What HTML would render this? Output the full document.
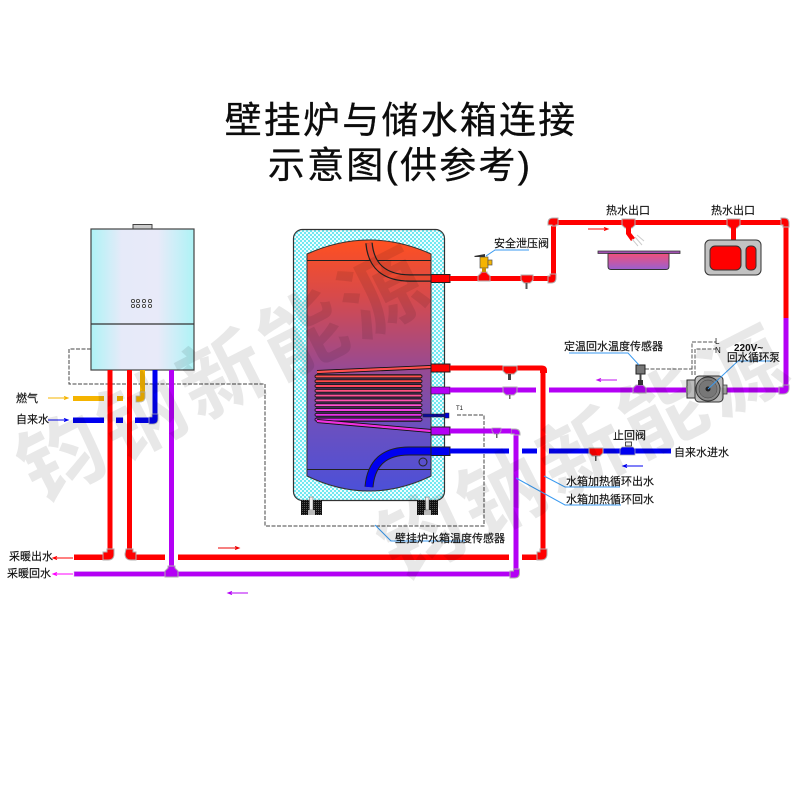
<!DOCTYPE html>
<html><head><meta charset="utf-8"><style>
html,body{margin:0;padding:0;background:#fff}
svg{display:block}
text{font-family:"Liberation Sans","Noto Sans CJK SC",sans-serif;fill:#111}
.l{font-size:11px;stroke:#111;stroke-width:.15px}
.t{font-size:37px;letter-spacing:2.2px;text-anchor:middle;fill:#0c0c0c;stroke:#0c0c0c;stroke-width:.3px}
</style></head><body>
<svg width="800" height="800" viewBox="0 0 800 800" xmlns="http://www.w3.org/2000/svg">
<defs>
<linearGradient id="b" x1="0" x2="1" y1="0" y2="0"><stop offset="0" stop-color="#aef3f6"/><stop offset=".3" stop-color="#e6eaf9"/><stop offset=".65" stop-color="#e8eaf9"/><stop offset="1" stop-color="#aef3f6"/></linearGradient>
<linearGradient id="tg" x1="0" x2="0" y1="0" y2="1"><stop offset="0" stop-color="#ff5020"/><stop offset=".22" stop-color="#d84a4a"/><stop offset=".5" stop-color="#9a4a90"/><stop offset=".75" stop-color="#6a50c0"/><stop offset="1" stop-color="#4c50d8"/></linearGradient>
<linearGradient id="sink" x1="0" x2="0" y1="0" y2="1"><stop offset="0" stop-color="#f0507a"/><stop offset="1" stop-color="#9a60d0"/></linearGradient>
<pattern id="dots" width="4" height="4" patternUnits="userSpaceOnUse"><rect width="4" height="4" fill="#eefcfd"/><circle cx="1" cy="1" r="1" fill="#48e2ee"/><circle cx="3" cy="3" r="1" fill="#48e2ee"/></pattern>
<pattern id="blk" width="2" height="2" patternUnits="userSpaceOnUse"><rect width="2" height="2" fill="#111"/><rect width="1" height="1" fill="#555"/></pattern>
</defs>

<text class="t" x="401" y="133">壁挂炉与储水箱连接</text>
<text class="t" x="400" y="178">示意图(供参考)</text>

<!-- boiler -->
<rect x="133" y="224.500" width="19" height="5" fill="#ccc" stroke="#444"/>
<rect x="91" y="229" width="103" height="141" fill="url(#b)" stroke="#444" stroke-width="1.200"/>
<line x1="91" x2="194" y1="324" y2="324" stroke="#333" stroke-width="1.300"/>
<g fill="#eee" stroke="#333" stroke-width=".8"><circle cx="133" cy="301" r="1.600"/><circle cx="138" cy="301" r="1.600"/><circle cx="144" cy="301" r="1.600"/><circle cx="150" cy="301" r="1.600"/><circle cx="133" cy="306" r="1.600"/><circle cx="138" cy="306" r="1.600"/><circle cx="144" cy="306" r="1.600"/><circle cx="150" cy="306" r="1.600"/></g>

<!-- dashed sensor wiring -->
<g fill="none" stroke="#444" stroke-width="1" stroke-dasharray="4 1.500">
<path d="M91 349H69V384H265V526H484V415H456"/>
<path d="M645 369H692M692 375V342H716M695 375V349H716" stroke="#555"/>
</g>

<!-- boiler pipes -->
<g fill="none" stroke-linejoin="round">
<path d="M110 370V553" stroke="#f00" stroke-width="5"/>
<path d="M129.500 370V553" stroke="#f00" stroke-width="5"/>
<path d="M171.500 370V570" stroke="#b400f5" stroke-width="5"/>
<path d="M142.500 370V396" stroke="#f5b400" stroke-width="5"/>
<path d="M155 370V416" stroke="#0000f0" stroke-width="5"/>
</g>
<g fill="#f5b400"><rect x="73" y="396" width="31" height="5"/><rect x="117" y="396" width="6" height="5"/><path d="M136 396h4v-4h5v5q0 5-5 5h-4z" stroke="#bbb" stroke-width=".8"/></g>
<g fill="#0000f0"><rect x="73" y="417.500" width="31" height="5.500"/><rect x="116" y="417.500" width="7" height="5.500"/><rect x="135" y="417.500" width="15" height="5.500"/><path d="M149 417h3v-3h6v5q0 5-5 5h-4z" stroke="#bbb" stroke-width=".8"/></g>

<!-- lower mains -->
<g fill="#f00">
<rect x="74" y="554.500" width="30" height="5.500"/><rect x="136" y="554.500" width="29" height="5.500"/><rect x="178" y="554.500" width="331" height="5.500"/><rect x="522" y="554.500" width="16" height="5.500"/>
<rect x="540.500" y="368" width="5" height="186"/>
<g stroke="#b0b0b0" stroke-width="1">
<path d="M103 552h4v-3h7v5q0 6-6 6h-5z"/>
<path d="M126 549h7v3h3v8h-5q-6 0-6-6z"/>
<path d="M537 552h3v-3h7v5q0 6-6 6h-4z"/>
</g>
<path d="M540 373v-6h-3v-1.500h5q5 0 5 5v2.500z"/>
</g>
<g fill="#b400f5">
<rect x="74" y="571.500" width="441" height="5" stroke="#d9b0f0" stroke-width=".5"/>
<rect x="513.500" y="433" width="5" height="136"/>
<g stroke="#b0b0b0" stroke-width="1">
<path d="M165 571l3-3v-2h7v2l3 3v6h-13z"/>
<path d="M510 571h3.500v-2h6v4q0 5-5 5h-4.500z"/>
<path d="M511 429h4q5 0 5 5v1h-6v-1h-3z"/>
</g>
</g>

<!-- tank -->
<rect x="293.500" y="229.500" width="151" height="271" rx="9" fill="url(#dots)" stroke="#333" stroke-width="1.200"/>
<path d="M307 260V254Q369 226 431 254V476Q369 506 307 476V260Z" fill="url(#tg)" stroke="#333"/>
<path d="M307 260.500H431M307 469.500H431" stroke="#222" stroke-width="1"/>
<path d="M369 243Q372 278 410 278H431" fill="none" stroke="#222" stroke-width="7.500"/>
<path d="M369 243Q372 278 410 278H431" fill="none" stroke="#e84830" stroke-width="5"/>
<rect x="431" y="274.500" width="19" height="8" fill="#f00" stroke="#222"/>

<!-- coil -->
<rect x="316" y="374" width="105" height="48" fill="#111" opacity=".55"/>
<g stroke="#1a1a1a" stroke-width=".9">
<rect x="315" y="375" width="107" height="2.800" rx="1.400" fill="#ff5050"/>
<rect x="315" y="379.800" width="107" height="2.800" rx="1.400" fill="#ff4848"/>
<rect x="315" y="384.600" width="107" height="2.800" rx="1.400" fill="#ff4860"/>
<rect x="315" y="389.400" width="107" height="2.800" rx="1.400" fill="#ff5080"/>
<rect x="315" y="394.200" width="107" height="2.800" rx="1.400" fill="#ff5098"/>
<rect x="315" y="399" width="107" height="2.800" rx="1.400" fill="#ff50b0"/>
<rect x="315" y="403.800" width="107" height="2.800" rx="1.400" fill="#ff50d0"/>
<rect x="315" y="408.600" width="107" height="2.800" rx="1.400" fill="#f040e0"/>
<rect x="315" y="413.400" width="107" height="2.800" rx="1.400" fill="#e830e8"/>
<rect x="315" y="418.200" width="107" height="2.800" rx="1.400" fill="#e020f0"/>
</g>
<path d="M317 372L431 367M317 421L431 431" stroke="#111" stroke-width="4" fill="none"/>
<path d="M317 372L431 367" stroke="#ff5050" stroke-width="2.200"/>
<path d="M317 421L431 431" stroke="#f030e0" stroke-width="2.200"/>
<rect x="431" y="364" width="19" height="8" fill="#f00" stroke="#222"/>
<rect x="431" y="387" width="19" height="7" fill="#b400f5" stroke="#222" stroke-width=".6"/>
<rect x="431" y="427" width="19" height="8" fill="#b400f5" stroke="#222"/>
<rect x="423" y="414" width="22" height="3" fill="#0a0a9a" stroke="#222" stroke-width=".5"/><rect x="445" y="413" width="4" height="5" fill="#0000e0" stroke="#222" stroke-width=".5"/>
<path d="M369 487q3-36 40-36h22" fill="none" stroke="#222" stroke-width="9"/>
<path d="M369 487q3-36 40-36h22" fill="none" stroke="#0000f0" stroke-width="7"/>
<circle cx="423" cy="462" r="4" fill="none" stroke="#222"/>
<rect x="431" y="447" width="19" height="8.500" fill="#0000f0" stroke="#222"/>
<g><rect x="301" y="500" width="21" height="15" fill="url(#blk)"/><rect x="417" y="500" width="21" height="15" fill="url(#blk)"/>
<rect x="309.500" y="497" width="3.500" height="13" fill="#eee" stroke="#666" stroke-width=".5"/><rect x="425.500" y="497" width="3.500" height="13" fill="#eee" stroke="#666" stroke-width=".5"/>
<rect x="308" y="510" width="7" height="5" fill="#bbb"/><rect x="424" y="510" width="7" height="5" fill="#bbb"/></g>

<!-- upper circuit -->
<g fill="#f00">
<rect x="450" y="276" width="101" height="5"/>
<rect x="551" y="226" width="5" height="50"/>
<rect x="556" y="220" width="228" height="5"/>
<rect x="783.500" y="226" width="5" height="92"/>
<g stroke="#b0b0b0" stroke-width="1">
<path d="M552 225h-4v-2q0-5 5-5h5v7h-2v1h-4z"/>
<path d="M781 218h3q5 0 5 5v4h-6v-2h-2z"/>
<path d="M556 274v4q0 5-5 5h-3v-7h2v-2z"/>
<path d="M478 276l3-3v-1h6v1l3 3v5h-12z"/>
<path d="M521 275h12v5l-3 3h-6l-3-3z"/>
<path d="M622 219h13v6l-3 3h-7l-3-3z"/>
<path d="M727 219h13v6l-3 3h-7l-3-3z"/>
</g>
<path d="M626 227h5v6l4 5-4 3-5-7z"/>
<rect x="731" y="227" width="5" height="13"/>
</g>
<rect x="525.500" y="283" width="2" height="6" fill="#555"/>
<g stroke="#ccc" stroke-width="1" fill="none"><path d="M632 239l6 7M635 237l7 8M637 235l7 6"/></g>

<!-- tap sink 1 -->
<path d="M598 251h82v2.500h-82z" fill="#a050b0" stroke="#333" stroke-width=".8"/>
<path d="M608 253.500h61v13q0 3-3 3h-55q-3 0-3-3z" fill="url(#sink)" stroke="#333" stroke-width=".9"/>
<!-- sink 2 -->
<rect x="705" y="240" width="56" height="35" rx="5" fill="#c2c2c2" stroke="#333"/>
<rect x="710" y="246" width="31" height="24" rx="5" fill="#f00" stroke="#333"/>
<rect x="746" y="246" width="10" height="24" rx="4" fill="#f00" stroke="#333"/>

<!-- safety valve -->
<rect x="480" y="257" width="8" height="11" fill="#f5b400" stroke="#555" stroke-width=".7"/>
<rect x="488" y="260" width="4" height="5" fill="#f5b400" stroke="#555" stroke-width=".7"/>
<path d="M474 256l11-2v3h-10z" fill="#333"/>
<rect x="482" y="268" width="4" height="4" fill="#c89000"/>
<path d="M486 256l9-6H529" fill="none" stroke="#3a9af0"/>

<!-- right mid pipes -->
<g fill="#f00"><rect x="450" y="365.500" width="90" height="5"/>
<path d="M503 366h14v5l-3 3h-8l-3-3z" stroke="#b0b0b0" stroke-width="1"/></g>
<rect x="508" y="374" width="3" height="6" fill="#444"/>
<g fill="#b400f5">
<rect x="450" y="387.500" width="86" height="5"/>
<g stroke="#b0b0b0" stroke-width="1">
<path d="M503 387h14v5l-3 3h-8l-3-3z"/>
</g>
<rect x="549" y="387.500" width="232" height="5"/>
<rect x="783.500" y="318" width="5" height="67"/>
<g stroke="#b0b0b0" stroke-width="1">
<path d="M633 388l3-3h7l3 3v5h-13z"/>
<path d="M783 385h6v3q0 6-6 6h-4v-7h4z"/>
</g>
<rect x="450" y="428.500" width="61" height="5"/>
<path d="M492 428h9v3l-2 3h-5l-2-3z" stroke="#b0b0b0" stroke-width=".8"/>
</g>
<rect x="496" y="434" width="1.500" height="4" fill="#666"/>
<rect x="509" y="395" width="1.500" height="4" fill="#666"/>

<g fill="#0000f0"><rect x="450" y="448.500" width="59" height="5"/><rect x="522" y="448.500" width="15" height="5"/><rect x="549" y="448.500" width="122" height="5"/>
<path d="M622 447h11l2 2v6h-15v-6z" stroke="#b0b0b0" stroke-width=".7"/></g>
<path d="M589 448h14v5l-3 3h-8l-3-3z" fill="#f00" stroke="#b0b0b0" stroke-width="1"/>
<rect x="595" y="456" width="1.500" height="5" fill="#555"/>
<rect x="625.500" y="442" width="6" height="4" fill="#eee" stroke="#222" stroke-width=".8"/>

<!-- sensor on return -->
<rect x="636" y="365" width="9" height="9" fill="#777" stroke="#222"/>
<rect x="638" y="380" width="5" height="5" fill="#333"/><rect x="639.500" y="374" width="2" height="6" fill="#444"/>

<!-- pump -->
<rect x="687" y="380" width="9" height="18" fill="#bbb" stroke="#333"/>
<rect x="695" y="376" width="28" height="26" rx="4" fill="#bbb" stroke="#333"/>
<circle cx="708" cy="389" r="12" fill="#888" stroke="#333"/><circle cx="708" cy="389" r="9" fill="#777" stroke="#444" stroke-width=".5"/><circle cx="708" cy="389" r="2.500" fill="#222"/>
<rect x="723" y="385" width="4" height="9" fill="#aaa" stroke="#333" stroke-width=".7"/>
<rect x="686" y="386" width="2" height="7" fill="#888"/>

<!-- blue leader lines -->
<g fill="none" stroke="#3a9af0" stroke-width="1">
<path d="M639 365L628 353H569"/>
<path d="M708 389L738 361H772"/>
<path d="M544 476L565 487H620"/>
<path d="M516 478L565 505H621"/>
<path d="M375 525L391 541H465"/>
</g>

<!-- flow arrows -->
<g fill="none" stroke-width="1">
<path d="M48 398H68M64 396.500L68 398L64 399.500" stroke="#f5b400"/>
<path d="M48 420H68M64 418.500L68 420L64 421.500" stroke="#0000f0"/>
<path d="M53 558H73M57 556.500L53 558L57 559.500" stroke="#f00"/>
<path d="M53 574H73M57 572.500L53 574L57 575.500" stroke="#f0f"/>
<path d="M218 548H239M235 546.500L239 548L235 549.500" stroke="#e00"/>
<path d="M228 593H248M232 591.500L228 593L232 594.500" stroke="#b400f5"/>
<path d="M588 229H608M604 227.500L608 229L604 230.500" stroke="#f00"/>
<path d="M597 380H617M601 378.500L597 380L601 381.500" stroke="#c010f0"/>
<path d="M623 466H643M627 464.500L623 466L627 467.500" stroke="#0000f0"/>
</g>

<!-- labels -->
<text class="l" x="16" y="402">燃气</text>
<text class="l" x="16" y="423">自来水</text>
<text class="l" x="9" y="560">采暖出水</text>
<text class="l" x="7" y="577">采暖回水</text>
<text class="l" x="494" y="247">安全泄压阀</text>
<text class="l" x="606" y="214">热水出口</text>
<text class="l" x="711" y="214">热水出口</text>
<text class="l" x="564" y="350">定温回水温度传感器</text>
<text x="734" y="351" style="font-size:10px;font-weight:bold">220V~</text>
<text class="l" x="727" y="361" style="font-size:10.600px">回水循环泵</text>
<text x="715" y="344" style="font-size:8px">L</text>
<text x="715" y="353" style="font-size:8px">N</text>
<text x="456" y="410" style="font-size:6px">T1</text>
<text class="l" x="613" y="439">止回阀</text>
<text class="l" x="674" y="456">自来水进水</text>
<text class="l" x="566" y="485">水箱加热循环出水</text>
<text class="l" x="566" y="503">水箱加热循环回水</text>
<text class="l" x="395" y="542">壁挂炉水箱温度传感器</text>

<!-- watermark -->
<g style="font-size:84px;letter-spacing:6px">
<text x="38" y="503" transform="rotate(-27 38 503)" style="fill:#000;fill-opacity:.09;font-weight:bold">钧钠新能源</text>
<text x="398" y="581" transform="rotate(-27 398 581)" style="fill:#000;fill-opacity:.09;font-weight:bold">钧钠新能源</text>
</g>
</svg>
</body></html>
